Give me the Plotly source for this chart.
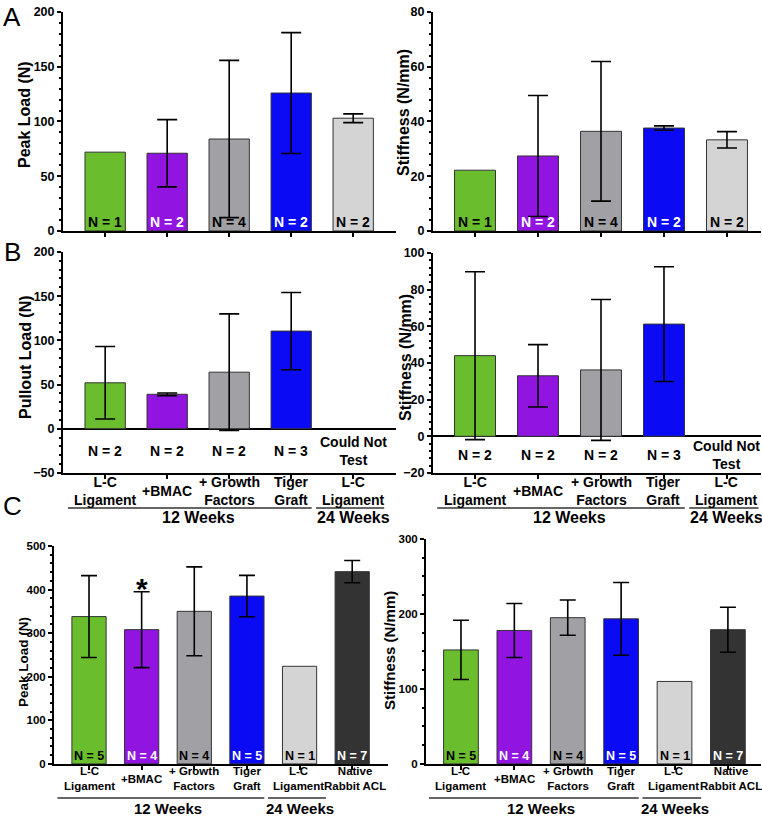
import plotly.graph_objects as go

FONT = "Arial, 'Liberation Sans', sans-serif"

# categories
groups_ab = ["L-C<br>Ligament", "+BMAC", "+ Growth<br>Factors", "Tiger<br>Graft", "L-C<br>Ligament"]
groups_c = ["L-C<br>Ligament", "+BMAC", "+ Growth<br>Factors", "Tiger<br>Graft", "L-C<br>Ligament", "Native<br>Rabbit ACL"]
bar_colors = ["#6abe2d", "#9114e1", "#a0a0a5", "#0a0af5", "#d4d4d4", "#333333"]
n_text_colors = ["black", "white", "black", "white", "black", "white"]

# A: peak load / stiffness
a_peak = [72, 71, 84, 126, 103]
a_peak_sd = [None, 30.7, 71.8, 55.2, 4]
a_stiff = [22.2, 27.4, 36.4, 37.6, 33.3]
a_stiff_sd = [None, 22.1, 25.5, 0.8, 3]
a_n = [1, 2, 4, 2, 2]

# B: pullout load / stiffness (24 weeks could not be tested)
b_pull = [52, 39, 64, 110.5, None]
b_pull_sd = [41, 1.5, 66, 43.7, None]
b_stiff = [44, 33, 36.2, 61.2, None]
b_stiff_sd = [45.8, 17, 38.4, 31.3, None]
b_n = [2, 2, 2, 3, None]

# C: peak load / stiffness incl. native ACL
c_peak = [338, 308, 350, 385, 224, 441]
c_peak_sd = [94, 87, 102, 47.5, None, 25.5]
c_stiff = [152, 178, 195, 193.5, 110, 179]
c_stiff_sd = [39.5, 36, 23.5, 48.5, None, 30]
c_n = [5, 4, 4, 5, 1, 7]


def px_x(p):
    return p / 762


def px_y(p):
    # target pixel row -> paper y (the page photo comes out slightly squeezed vertically)
    v = (p - 6) / 0.983
    return min(1, max(0, 1 - v / 819))


panels = [
    dict(k="", vals=a_peak, sd=a_peak_sd, n=a_n, labels=None, yr=[0, 200], dt=50, mn=10,
         title="Peak Load (N)", tpos=(25, 114), tsize=16, fs=12.5,
         xd=(63, 396), yd=(230, 11), xr=[-0.68, 4.69], cap=10),
    dict(k="2", vals=a_stiff, sd=a_stiff_sd, n=a_n, labels=None, yr=[0, 80], dt=20, mn=4,
         title="Stiffness (N/mm)", tpos=(404, 112), tsize=16, fs=12.5,
         xd=(433, 761), yd=(230, 11), xr=[-0.667, 4.54], cap=10),
    dict(k="3", vals=b_pull, sd=b_pull_sd, n=b_n, labels=groups_ab, yr=[-50, 200], dt=50, mn=10,
         title="Pullout Load (N)", tpos=(26, 356), tsize=16, fs=12.5,
         xd=(63, 396), yd=(472, 251), xr=[-0.68, 4.69], cap=10),
    dict(k="4", vals=b_stiff, sd=b_stiff_sd, n=b_n, labels=groups_ab, yr=[-20, 100], dt=20, mn=4,
         title="Stiffness (N/mm)", tpos=(406, 357), tsize=16, fs=12.5,
         xd=(433, 761), yd=(472, 252), xr=[-0.667, 4.54], cap=10),
    dict(k="5", vals=c_peak, sd=c_peak_sd, n=c_n, labels=groups_c, yr=[0, 500], dt=100, mn=20,
         title="Peak Load (N)", tpos=(24, 661), tsize=13.5, fs=11.5,
         xd=(54, 388), yd=(763, 545), xr=[-0.665, 5.68], cap=8),
    dict(k="6", vals=c_stiff, sd=c_stiff_sd, n=c_n, labels=groups_c, yr=[0, 300], dt=100, mn=25,
         title="Stiffness (N/mm)", tpos=(390, 650), tsize=15, fs=11.5,
         xd=(426, 761), yd=(763, 538), xr=[-0.655, 5.62], cap=8),
]

fig = go.Figure()
annotations = []
shapes = []

for i, p in enumerate(panels):
    xs = list(range(len(p["vals"])))
    xa = "x" + p["k"]
    ya = "y" + p["k"]
    fig.add_trace(go.Bar(
        x=xs, y=p["vals"], width=0.65, xaxis=xa, yaxis=ya,
        marker=dict(color=bar_colors[:len(xs)], line=dict(color="#333333", width=1)),
        showlegend=False,
    ))
    # error bars only where there is an SD (N = 1 has none)
    ex = [x for x, s in zip(xs, p["sd"]) if s is not None]
    ey = [v for v, s in zip(p["vals"], p["sd"]) if s is not None]
    es = [s for s in p["sd"] if s is not None]
    fig.add_trace(go.Scatter(
        x=ex, y=ey, mode="markers", xaxis=xa, yaxis=ya,
        marker=dict(size=1, color="rgba(0,0,0,0)"),
        error_y=dict(type="data", array=es, visible=True, color="black",
                     thickness=1.6, width=p["cap"]),
        showlegend=False, hoverinfo="skip",
    ))
    fig.layout["xaxis" + p["k"]] = dict(
        domain=[px_x(p["xd"][0]), px_x(p["xd"][1])], range=p["xr"], anchor=ya,
        showline=True, linecolor="black", linewidth=2, ticks="outside", ticklen=4,
        tickwidth=1.5, tickcolor="black", tickvals=xs, showticklabels=False,
        showgrid=False, zeroline=False, fixedrange=True,
    )
    fig.layout["yaxis" + p["k"]] = dict(
        domain=[px_y(p["yd"][0]), px_y(p["yd"][1])], range=p["yr"], anchor=xa,
        showline=True, linecolor="black", linewidth=2, ticks="outside", ticklen=4,
        tickwidth=1.5, tickcolor="black", dtick=p["dt"], tick0=0,
        minor=dict(dtick=p["mn"], ticks="outside", ticklen=2.5, tickwidth=1.5, tickcolor="black"),
        tickfont=dict(family=FONT, size=p["fs"], color="black", weight="bold"),
        showgrid=False, zeroline=p["yr"][0] < 0, zerolinecolor="black", zerolinewidth=2,
        fixedrange=True,
    )
    annotations.append(dict(
        x=px_x(p["tpos"][0]), y=px_y(p["tpos"][1]), xref="paper", yref="paper",
        text=p["title"], textangle=-90, showarrow=False, xanchor="center", yanchor="middle",
        font=dict(family=FONT, size=p["tsize"], color="black", weight="bold")))

    xref = "x" + p["k"] if p["k"] else "x"
    yref = "y" + p["k"] if p["k"] else "y"
    below = p["yr"][0] < 0
    for j, n in enumerate(p["n"]):
        if below:
            txt = "N = %d" % n if n is not None else "Could Not<br>Test"
            annotations.append(dict(
                x=j, y=p["yr"][0] / 2, xref=xref, yref=yref, text=txt, showarrow=False,
                yanchor="middle", font=dict(family=FONT, size=14, color="black", weight="bold")))
        else:
            annotations.append(dict(
                x=j, y=0, xref=xref, yref=yref, text="N = %d" % n, showarrow=False,
                yanchor="bottom", yshift=-1,
                font=dict(family=FONT, size=14 if i < 2 else 12.5, color=n_text_colors[j],
                          weight="bold")))

    if p["labels"]:
        row_c = i >= 4
        lab_y = px_y(778) if row_c else px_y(490)
        line_y = px_y(797) if row_c else px_y(507)
        grp_y = px_y(808) if row_c else px_y(517)
        for j, lab in enumerate(p["labels"]):
            annotations.append(dict(
                x=j, y=lab_y, xref=xref, yref="paper", text=lab, showarrow=False,
                yanchor="middle", xshift=3 if j == 5 else (-1 if j == 4 and row_c else 0),
                font=dict(family=FONT, size=11.5 if row_c else 14, color="black",
                          weight="bold")))
        for x0, x1, txt, xc in [(-0.6, 3.33, "12 Weeks", 1.5), (3.4, 4.5, "24 Weeks", 4)]:
            shapes.append(dict(type="line", xref=xref, yref="paper", x0=x0, x1=x1,
                               y0=line_y, y1=line_y, line=dict(color="#333333", width=1.5)))
            annotations.append(dict(
                x=xc, y=grp_y, xref=xref, yref="paper", text=txt, showarrow=False,
                yanchor="middle",
                font=dict(family=FONT, size=15 if row_c else 16, color="black", weight="bold")))

# significance marker above +BMAC in C
annotations.append(dict(x=1, y=c_peak[1] + c_peak_sd[1], xref="x5", yref="y5", text="*",
                        showarrow=False, yanchor="bottom", yshift=-15,
                        font=dict(family=FONT, size=30, color="black", weight="bold")))

# panel letters
for letter, ly in [("A", 16), ("B", 251), ("C", 505)]:
    annotations.append(dict(x=px_x(12), y=px_y(ly), xref="paper", yref="paper", text=letter,
                            showarrow=False, xanchor="center", yanchor="middle",
                            font=dict(family=FONT, size=26, color="black")))

fig.update_layout(
    width=762, height=819, margin=dict(l=0, r=0, t=0, b=0),
    paper_bgcolor="white", plot_bgcolor="white",
    annotations=annotations, shapes=shapes, bargap=0.35,
    font=dict(family=FONT, color="black"),
)

# pin the page to exactly the figure size (no body margin, no scrolling)
pin_page = (
    "var h=document.documentElement, b=document.body;"
    "h.style.margin='0'; b.style.margin='0'; h.style.padding='0'; b.style.padding='0';"
    "h.style.overflow='hidden'; b.style.overflow='hidden';"
    "h.style.height='819px'; b.style.height='819px';"
    "var d=document.getElementsByClassName('plotly-graph-div')[0];"
    "d.style.position='fixed'; d.style.top='0px'; d.style.left='0px';"
)

fig.write_html("out.html", config={"displayModeBar": False}, post_script=pin_page)
